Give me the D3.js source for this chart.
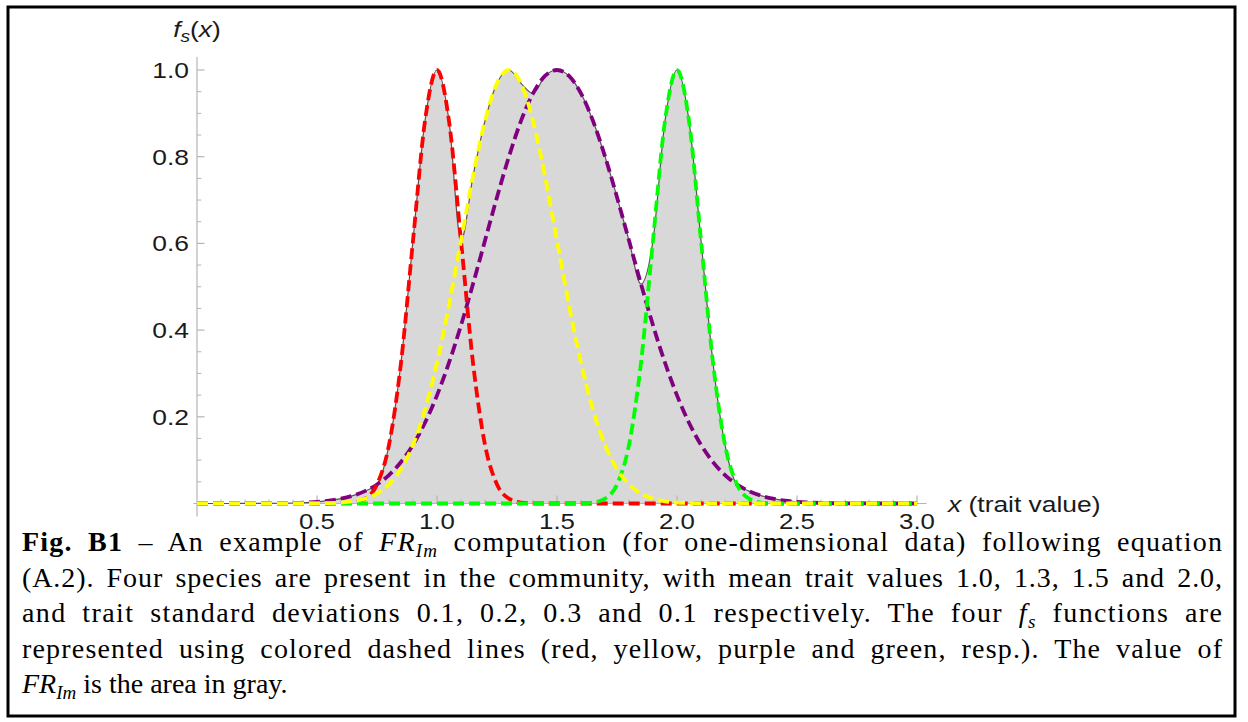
<!DOCTYPE html>
<html>
<head>
<meta charset="utf-8">
<script src="https://cdn.jsdelivr.net/npm/d3@7"></script>
<style>
  html, body { margin: 0; padding: 0; background: #fff; }
  svg { display: block; }
</style>
</head>
<body>
<svg id="chart" width="1248" height="722"></svg>
<script>
// ---- data ----
const xGrid = [0,0.05,0.1,0.15,0.2,0.25,0.3,0.35,0.4,0.45,0.5,0.55,0.6,0.65,0.7,0.75,0.8,0.85,0.9,0.95,
  1,1.05,1.1,1.15,1.2,1.25,1.3,1.35,1.4,1.45,1.5,1.55,1.6,1.65,1.7,1.75,1.8,1.85,1.9,1.95,
  2,2.05,2.1,2.15,2.2,2.25,2.3,2.35,2.4,2.45,2.5,2.55,2.6,2.65,2.7,2.75,2.8,2.85,2.9,2.95,3];

const redValues = [0,0,0,0,0,0,0,0,0,0,0,0,
  0.0003,0.0022,0.0111,0.0439,0.1353,0.3247,0.6065,0.8825,1,0.8825,0.6065,0.3247,0.1353,0.0439,0.0111,0.0022,0.0003,
  0,0,0,0,0,0,0,0,0,0,0,0,0,0,0,0,0,0,0,0,0,0,0,0,0,0,0,0,0,0,0,0];

const yellowValues = [0,0,0,0,0,0,0,0,0,0,
  0.0003,0.0009,0.0022,0.0051,0.0111,0.0228,0.0439,0.0796,0.1353,0.2163,0.3247,0.4578,0.6065,0.7548,0.8825,0.9692,1,
  0.9692,0.8825,0.7548,0.6065,0.4578,0.3247,0.2163,0.1353,0.0796,0.0439,0.0228,0.0111,0.0051,0.0022,0.0009,0.0003,
  0,0,0,0,0,0,0,0,0,0,0,0,0,0,0,0,0,0];

const purpleValues = [0,0,0,0,
  0.0001,0.0002,0.0003,0.0006,0.0012,0.0022,0.0039,0.0066,0.0111,0.0181,0.0286,0.0439,0.0657,0.0956,0.1353,0.1863,
  0.2494,0.3247,0.4111,0.5063,0.6065,0.7066,0.8007,0.8825,0.9460,0.9862,1,
  0.9862,0.9460,0.8825,0.8007,0.7066,0.6065,0.5063,0.4111,0.3247,0.2494,0.1863,0.1353,0.0956,0.0657,0.0439,
  0.0286,0.0181,0.0111,0.0066,0.0039,0.0022,0.0012,0.0006,0.0003,0.0002,0.0001,
  0,0,0,0];

const greenValues = [0,0,0,0,0,0,0,0,0,0,0,0,0,0,0,0,0,0,0,0,0,0,0,0,0,0,0,0,0,0,0,0,
  0.0003,0.0022,0.0111,0.0439,0.1353,0.3247,0.6065,0.8825,1,0.8825,0.6065,0.3247,0.1353,0.0439,0.0111,0.0022,0.0003,
  0,0,0,0,0,0,0,0,0,0,0,0];

const seriesNames = ["purple", "red", "green", "yellow"];
const seriesColors = ["#800080", "#ff0000", "#00ff00", "#ffff00"];
const seriesData = [purpleValues, redValues, greenValues, yellowValues];

const xMajorTicks = [0.5, 1.0, 1.5, 2.0, 2.5, 3.0];
const xMinorTicks = [0.1,0.2,0.3,0.4,0.6,0.7,0.8,0.9,1.1,1.2,1.3,1.4,1.6,1.7,1.8,1.9,2.1,2.2,2.3,2.4,2.6,2.7,2.8,2.9];
const yMajorTicks = [0.2, 0.4, 0.6, 0.8, 1.0];
const yMinorTicks = [0.05,0.1,0.15,0.25,0.3,0.35,0.45,0.5,0.55,0.65,0.7,0.75,0.85,0.9,0.95];

const captionLines = [
  [{t:"Fig. B1", b:true}, {t:" – An example of "}, {t:"FR", i:true}, {t:"Im", i:true, sub:true}, {t:" computation (for one-dimensional data) following equation"}],
  [{t:"(A.2). Four species are present in the community, with mean trait values 1.0, 1.3, 1.5 and 2.0,"}],
  [{t:"and trait standard deviations 0.1, 0.2, 0.3 and 0.1 respectively. The four "}, {t:"f", i:true}, {t:"s", i:true, sub:true}, {t:" functions are"}],
  [{t:"represented using colored dashed lines (red, yellow, purple and green, resp.). The value of"}],
  [{t:"FR", i:true}, {t:"Im", i:true, sub:true}, {t:" is the area in gray."}]
];

// ---- drawing ----
const svg = d3.select("#chart");

// frame
svg.append("rect").attr("x", 8).attr("y", 7).attr("width", 1227).attr("height", 709)
  .attr("fill", "none").attr("stroke", "#000").attr("stroke-width", 3);

const x = d3.scaleLinear().domain([0, 3]).range([197, 917]);
const y = d3.scaleLinear().domain([0, 1]).range([503.5, 70]);

const envelope = xGrid.map((xv, i) => d3.max(seriesData, s => s[i]));

const area = d3.area().x((d, i) => x(xGrid[i])).y0(y(0)).y1(d => y(d)).curve(d3.curveMonotoneX);
const line = d3.line().x((d, i) => x(xGrid[i])).y(d => y(d)).curve(d3.curveMonotoneX);

svg.append("path").datum(envelope).attr("d", area).attr("fill", "#d8d8d8");

// axes
const axisColor = "#b5b5b5";
svg.append("line").attr("x1", x(-0.015)).attr("x2", x(3.04)).attr("y1", y(0)).attr("y2", y(0))
  .attr("stroke", axisColor).attr("stroke-width", 1.2);
svg.append("line").attr("x1", x(0)).attr("x2", x(0)).attr("y1", y(1.03)).attr("y2", y(-0.03))
  .attr("stroke", axisColor).attr("stroke-width", 1.2);

svg.selectAll(".xmaj").data(xMajorTicks).enter().append("line")
  .attr("x1", d => x(d)).attr("x2", d => x(d)).attr("y1", y(0)).attr("y2", y(0) - 8)
  .attr("stroke", axisColor).attr("stroke-width", 1.2);
svg.selectAll(".xmin").data(xMinorTicks).enter().append("line")
  .attr("x1", d => x(d)).attr("x2", d => x(d)).attr("y1", y(0)).attr("y2", y(0) - 4)
  .attr("stroke", axisColor).attr("stroke-width", 1);
svg.selectAll(".ymaj").data(yMajorTicks).enter().append("line")
  .attr("x1", x(0)).attr("x2", x(0) + 7.5).attr("y1", d => y(d)).attr("y2", d => y(d))
  .attr("stroke", axisColor).attr("stroke-width", 1.2);
svg.selectAll(".ymin").data(yMinorTicks).enter().append("line")
  .attr("x1", x(0)).attr("x2", x(0) + 4.3).attr("y1", d => y(d)).attr("y2", d => y(d))
  .attr("stroke", axisColor).attr("stroke-width", 1);

// envelope outline
svg.append("path").datum(envelope).attr("d", line).attr("fill", "none")
  .attr("stroke", "#555").attr("stroke-width", 1.2);

// dashed series
seriesData.forEach((vals, k) => {
  svg.append("path").datum(vals).attr("d", line).attr("fill", "none")
    .attr("stroke", seriesColors[k]).attr("stroke-width", 3.8)
    .attr("stroke-dasharray", "11,5").attr("class", "series-" + seriesNames[k]);
});

// tick labels (stretched horizontally like the reference)
const SX = 1.2;
const labelFont = "'Liberation Sans', Arial, Helvetica, sans-serif";
function stretchedText(px, py, anchor, size) {
  return svg.append("g").attr("transform", `translate(${px},${py}) scale(${SX},1)`)
    .append("text").attr("x", 0).attr("y", 0).attr("text-anchor", anchor)
    .attr("font-family", labelFont).attr("font-size", size || 22).attr("fill", "#1a1a1a");
}
xMajorTicks.forEach(d => {
  stretchedText(x(d), 529, "middle", 21.5).text(d3.format(".1f")(d));
});
yMajorTicks.forEach(d => {
  stretchedText(189, y(d) + 8, "end").text(d3.format(".1f")(d));
});

// axis labels
const xl = stretchedText(948, 512, "start");
xl.append("tspan").attr("font-style", "italic").text("x");
xl.append("tspan").text(" (trait value)");

const yl = stretchedText(197, 37, "middle");
yl.append("tspan").attr("font-style", "italic").text("f");
yl.append("tspan").attr("font-style", "italic").attr("font-size", 16).attr("dy", 5).text("s");
yl.append("tspan").attr("dy", -5).text("(");
yl.append("tspan").attr("font-style", "italic").text("x");
yl.append("tspan").text(")");

// caption, justified with a mix of letter and word spacing
const capLeft = 22, capRight = 1222, capBase0 = 551, capStep = 35.5;
captionLines.forEach((parts, li) => {
  const t = svg.append("text").attr("x", capLeft).attr("y", capBase0 + li * capStep)
    .attr("font-family", "'Liberation Serif', 'Times New Roman', Times, serif")
    .attr("font-size", 28).attr("fill", "#000");
  parts.forEach((p, j) => {
    const ts = t.append("tspan").text(p.t);
    if (p.b) ts.attr("font-weight", "bold");
    if (p.i) ts.attr("font-style", "italic");
    if (p.sub) ts.attr("font-size", 19).attr("dy", 6);
    const prev = parts[j - 1];
    if (prev && prev.sub && !p.sub) ts.attr("dy", -6);
  });
  if (li < captionLines.length - 1) {
    const full = parts.map(p => p.t).join("");
    const natural = t.node().getComputedTextLength();
    const nSpaces = full.split(" ").length - 1;
    const nChars = full.length - 1;
    const extra = capRight - capLeft - natural;
    const ls = 0.55 * extra / nChars;
    const ws = 0.45 * extra / nSpaces;
    t.style("letter-spacing", ls + "px").style("word-spacing", ws + "px");
  }
});
</script>
</body>
</html>
